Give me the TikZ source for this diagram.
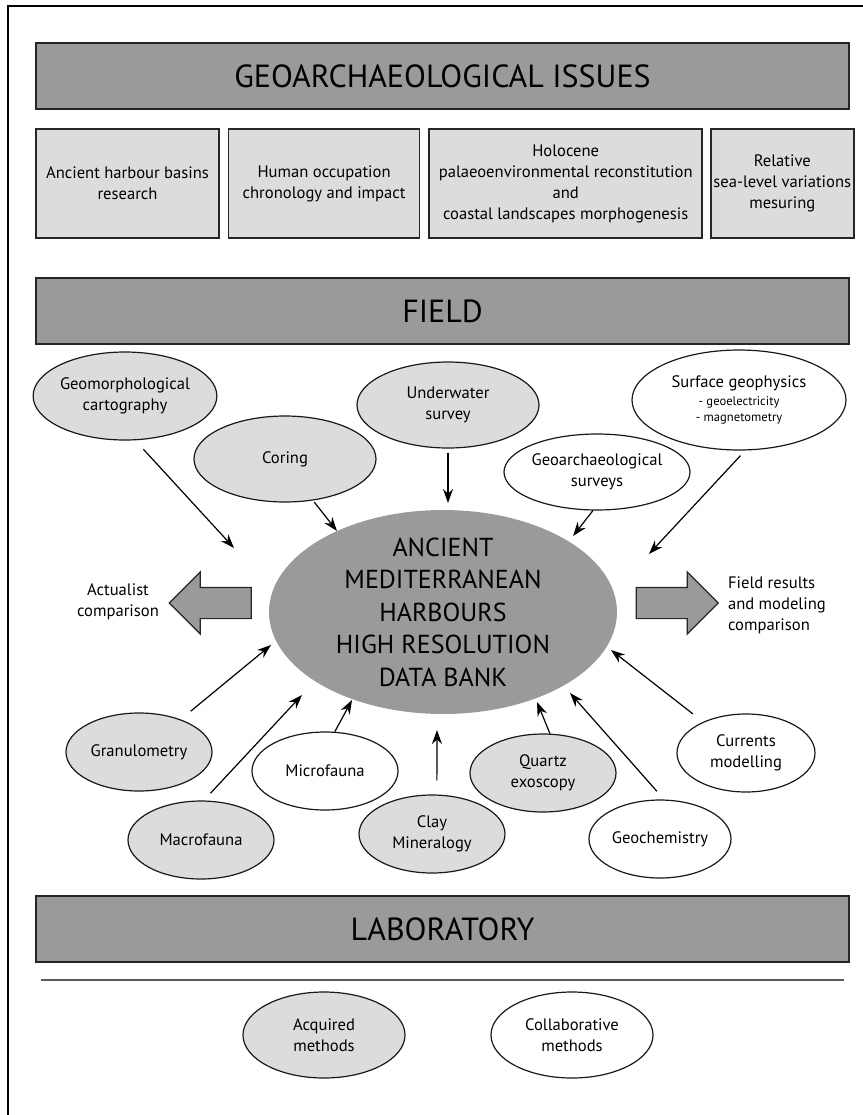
\documentclass[tikz,border=0pt]{standalone}
\usepackage{fontspec}
\setmainfont{PT Sans}
\usepackage{tikz}
\usetikzlibrary{positioning, arrows.meta, shapes.geometric, shapes.arrows}
\definecolor{bargray}{RGB}{152,155,154}
\definecolor{boxgray}{RGB}{220,220,220}
\definecolor{linegray}{RGB}{90,90,90}

\begin{document}
\begin{tikzpicture}[x=0.5pt, y=-0.5pt, >={Stealth[length=7pt, width=5pt]},
  txt/.style={font=\fontsize{8.3}{10.5}\selectfont, align=center},
  bar/.style={draw=black!85, line width=1pt, fill=bargray, minimum width=406.5pt, minimum height=33pt, font=\fontsize{16}{19}\selectfont},
  issue/.style={txt, draw=black!85, line width=0.8pt, fill=boxgray, minimum height=54.5pt, inner sep=0pt},
  method/.style={txt, ellipse, draw=black!90, line width=0.6pt, inner sep=0pt, fill=white},
  acquired/.style={method, fill=boxgray},
  fat/.style={single arrow, draw=black!85, line width=0.6pt, fill=bargray, minimum height=41pt, inner sep=7.5pt, single arrow head extend=7.75pt, single arrow tip angle=90},
  link/.style={->, line width=0.6pt}]
  \useasboundingbox (0,0) rectangle (863,1115);
  \draw[line width=0.8pt] (8,1115) -- (8,6) -- (863,6);

  % issues
  \node[bar] (issues) at (442.5,76) {GEOARCHAEOLOGICAL ISSUES};
  \node[issue, minimum width=91.5pt] (basins) at (127.5,183.5) {Ancient harbour basins\\research};
  \node[issue, minimum width=95.5pt, right=4pt of basins] (occup) {Human occupation\\chronology and impact};
  \node[issue, minimum width=136.5pt, right=4pt of occup] (holo) {Holocene\\palaeoenvironmental reconstitution\\and\\coastal landscapes morphogenesis};
  \node[issue, minimum width=71.5pt, right=3.5pt of holo] (sealevel) {Relative\\sea-level variations\\mesuring};

  % field
  \node[bar] (field) at (442.5,311) {FIELD};
  \node[acquired, minimum width=91pt, minimum height=44pt] (cartog) at (125,396) {Geomorphological\\cartography};
  \node[acquired, minimum width=91pt, minimum height=43pt] (coring) at (285,459) {Coring};
  \node[acquired, minimum width=91pt, minimum height=43pt] (under) at (448,405) {Underwater\\survey};
  \node[method, minimum width=93pt, minimum height=38pt] (gsurv) at (597,472) {Geoarchaeological\\surveys};
  \node[method, minimum width=107pt, minimum height=50pt] (geophys) at (739,400)
    {Surface geophysics\\[-1.5pt]{\fontsize{6.3}{7.75}\selectfont - geoelectricity}\\[-2.75pt]{\fontsize{6.3}{7.75}\selectfont - magnetometry}};

  % data bank
  \node[ellipse, fill=bargray, minimum width=174pt, minimum height=102pt, inner sep=0pt, inner ysep=-4pt,
    align=center, font=\fontsize{13}{16.25}\selectfont] (bank) at (443,612)
    {ANCIENT\\MEDITERRANEAN\\HARBOURS\\HIGH RESOLUTION\\DATA BANK};
  \node[fat, shape border rotate=180] (actual) at (218,603) {};
  \node[fat] (results) at (669.5,603) {};
  \node[txt] (actualtxt) at (118,602) {Actualist\\comparison};
  \node[txt, align=left, anchor=west] (resultstxt) at (721,605) {Field results\\and modeling\\comparison};

  % laboratory analyses
  \node[acquired, minimum width=73pt, minimum height=39pt] (granulo) at (139,752) {Granulometry};
  \node[method, minimum width=73pt, minimum height=39pt] (microf) at (325,771) {Microfauna};
  \node[acquired, minimum width=73pt, minimum height=39pt] (macrof) at (201,840) {Macrofauna};
  \node[acquired, minimum width=73pt, minimum height=39pt] (clay) at (432,834) {Clay\\Mineralogy};
  \node[acquired, minimum width=73pt, minimum height=39pt] (quartz) at (543,773) {Quartz\\exoscopy};
  \node[method, minimum width=71pt, minimum height=39pt] (geochem) at (660,839) {Geochemistry};
  \node[method, minimum width=69pt, minimum height=39pt] (currents) at (746,753) {Currents\\modelling};

  % arrow tips
  \coordinate (t1) at (234,548);
  \coordinate (t2) at (337,531);
  \coordinate (t3) at (448,503);
  \coordinate (t4) at (573,536);
  \coordinate (t5) at (649,554);
  \coordinate (t6) at (271,645);
  \coordinate (t7) at (302,695);
  \coordinate (t8) at (352,700);
  \coordinate (t9) at (437,730);
  \coordinate (t10) at (537,702);
  \coordinate (t11) at (570,693);
  \coordinate (t12) at (611,650);
  \foreach \src/\ang/\gap/\tip in {cartog/-77/6/t1, coring/-56/1/t2, under/-90/2/t3, gsurv/-96/0/t4,
      geophys/-83/3.5/t5, granulo/38/6.5/t6, macrof/86/5/t7, microf/76/0/t8, clay/83/7/t9,
      quartz/80/0/t10, geochem/84/5.5/t11, currents/144/6.5/t12}
    \draw[link, shorten <=\gap pt] (\src.\ang) -- (\tip);

  % legend
  \node[bar] (lab) at (442.5,929) {LABORATORY};
  \draw[linegray, line width=0.8pt] (41,980) -- (844,980);
  \node[acquired, minimum width=81pt, minimum height=43pt] (acq) at (324,1035) {Acquired\\methods};
  \node[method, minimum width=81pt, minimum height=43pt] (collab) at (572,1035) {Collaborative\\methods};
\end{tikzpicture}
\end{document}
